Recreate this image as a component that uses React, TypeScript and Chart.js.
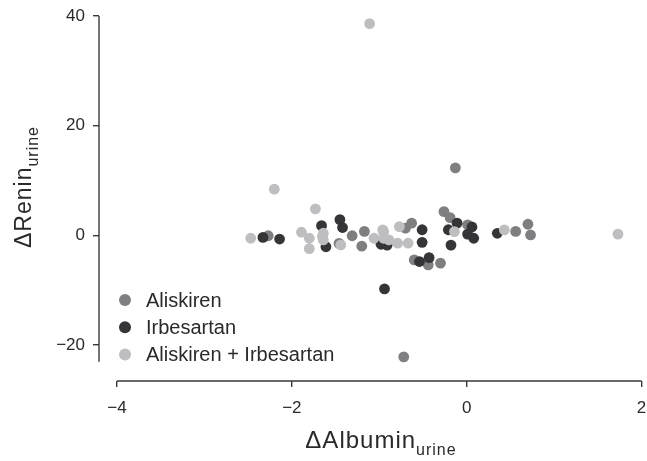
import React, { useEffect, useRef } from "react";
import { Chart, registerables } from "chart.js";

Chart.register(...registerables);

// ---- data ----
const seriesNames = ["Aliskiren", "Irbesartan", "Aliskiren + Irbesartan"];
const seriesColors = ["#7f7f81", "#353537", "#bebec0"];

const aliskirenX = [-2.27, -1.46, -1.31, -1.17, -1.2, -0.7, -0.63, -0.6, -0.44, -0.3, -0.26, -0.19, 0.01, 0.56, 0.7, 0.73, -0.13, -0.72];
const aliskirenY = [-0.1, -1.5, -0.1, 0.7, -2.0, 1.3, 2.2, -4.5, -5.4, -5.1, 4.3, 3.2, 1.9, 0.7, 2.0, 0.05, 12.3, -22.2];

const irbesartanX = [-2.33, -2.14, -1.66, -1.61, -1.45, -1.42, -0.98, -0.91, -0.51, -0.51, -0.54, -0.43, -0.11, -0.21, 0.06, 0.01, 0.08, -0.18, 0.35, -0.94];
const irbesartanY = [-0.4, -0.7, 1.75, -2.1, 2.85, 1.4, -1.65, -1.8, 1.0, -1.3, -4.8, -4.1, 2.2, 1.0, 1.5, 0.2, -0.55, -1.8, 0.35, -9.8];

const comboX = [-2.47, -1.89, -1.8, -1.8, -1.65, -1.64, -1.64, -1.44, -1.06, -0.95, -0.95, -0.89, -0.79, -0.77, -0.67, -0.96, -0.14, 0.43, 1.73, -1.11, -2.2, -1.73];
const comboY = [-0.55, 0.55, -0.55, -2.45, -0.25, 0.36, -0.85, -1.75, -0.55, 0.66, -0.55, -0.85, -1.46, 1.57, -1.46, 0.97, 0.66, 0.97, 0.2, 38.6, 8.4, 4.8];

const xTicks = [-4, -2, 0, 2];
const yTicks = [-20, 0, 20, 40];
const xTitle = "ΔAlbumin";
const xTitleSub = "urine";
const yTitle = "ΔRenin";
const yTitleSub = "urine";

// ---- view settings ----
const X_MIN = -4.205;
const X_MAX = 2;
const Y_MIN = -26.6;
const Y_MAX = 40;
const Y_AXIS_LINE_MIN = -23.1;
const FONT = "'Liberation Sans', Arial, sans-serif";
const AXIS_COLOR = "#3a3a3a";
const TEXT_COLOR = "#2a2a2a";

const fmt = (v: number) => (v < 0 ? "\u2212" + Math.abs(v) : String(v));

const toPoints = (xs: number[], ys: number[]) => xs.map((x, i) => ({ x, y: ys[i] }));

const axisPlugin = {
  id: "axisLines",
  beforeDatasetsDraw(chart: any) {
    const { ctx, scales, chartArea } = chart;
    const x = scales.x;
    const y = scales.y;
    ctx.save();
    ctx.strokeStyle = AXIS_COLOR;
    ctx.lineWidth = 1.4;
    ctx.beginPath();
    ctx.moveTo(chartArea.left, y.getPixelForValue(yTicks[yTicks.length - 1]));
    ctx.lineTo(chartArea.left, y.getPixelForValue(Y_AXIS_LINE_MIN));
    ctx.moveTo(x.getPixelForValue(xTicks[0]), chartArea.bottom);
    ctx.lineTo(x.getPixelForValue(xTicks[xTicks.length - 1]), chartArea.bottom);
    ctx.stroke();
    ctx.restore();
  },
};

const drawSubText = (ctx: any, main: string, sub: string, x: number, y: number, mainSize: number, subSize: number, subDrop: number) => {
  try { ctx.letterSpacing = "1px"; } catch (e) {}
  ctx.font = `${mainSize}px ${FONT}`;
  const w1 = ctx.measureText(main).width;
  ctx.font = `${subSize}px ${FONT}`;
  const w2 = ctx.measureText(sub).width;
  const total = w1 + w2;
  const start = x - total / 2;
  ctx.textAlign = "left";
  ctx.textBaseline = "alphabetic";
  ctx.font = `${mainSize}px ${FONT}`;
  ctx.fillText(main, start, y);
  ctx.font = `${subSize}px ${FONT}`;
  ctx.fillText(sub, start + w1, y + subDrop);
};

const titlePlugin = {
  id: "titles",
  afterDraw(chart: any) {
    const { ctx } = chart;
    ctx.save();
    ctx.fillStyle = TEXT_COLOR;
    drawSubText(ctx, xTitle, xTitleSub, 381, 448, 24, 16, 7);
    ctx.restore();
    ctx.save();
    ctx.fillStyle = TEXT_COLOR;
    ctx.translate(31, 187);
    ctx.rotate(-Math.PI / 2);
    drawSubText(ctx, yTitle, yTitleSub, 0, 0, 23, 16, 7);
    ctx.restore();
  },
};

const legendPlugin = {
  id: "customLegend",
  afterDraw(chart: any) {
    const { ctx } = chart;
    ctx.save();
    ctx.font = `20px ${FONT}`;
    try { ctx.letterSpacing = "0px"; } catch (e) {}
    ctx.textBaseline = "middle";
    ctx.textAlign = "left";
    seriesNames.forEach((name, i) => {
      const cy = 300 + i * 27.3;
      ctx.fillStyle = seriesColors[i];
      ctx.beginPath();
      ctx.arc(125, cy, 6, 0, Math.PI * 2);
      ctx.fill();
      ctx.fillStyle = TEXT_COLOR;
      ctx.fillText(name, 146, cy + 1);
    });
    ctx.restore();
  },
};

export default function App() {
  const canvasRef = useRef<HTMLCanvasElement | null>(null);

  useEffect(() => {
    if (!canvasRef.current) return;
    const mk = (label: string, color: string, xs: number[], ys: number[], order: number) => ({
      label,
      data: toPoints(xs, ys),
      backgroundColor: color,
      borderColor: color,
      borderWidth: 0,
      pointRadius: 5.4,
      order,
    });
    const chart = new Chart(canvasRef.current, {
      type: "scatter",
      data: {
        datasets: [
          mk(seriesNames[0], seriesColors[0], aliskirenX, aliskirenY, 3),
          mk(seriesNames[1], seriesColors[1], irbesartanX, irbesartanY, 2),
          mk(seriesNames[2], seriesColors[2], comboX, comboY, 1),
        ],
      },
      options: {
        responsive: false,
        animation: false,
        layout: { padding: { top: 16, right: 4, left: 0, bottom: 0 } },
        plugins: { legend: { display: false }, tooltip: { enabled: false } },
        scales: {
          x: {
            type: "linear",
            min: X_MIN,
            max: X_MAX,
            afterBuildTicks: (s: any) => {
              s.ticks = xTicks.map((v) => ({ value: v }));
            },
            afterFit: (s: any) => {
              s.height = 80;
              s.paddingLeft = 0;
              s.paddingRight = 0;
            },
            ticks: {
              callback: (v: any) => fmt(Number(v)),
              font: { family: FONT, size: 17 },
              color: TEXT_COLOR,
              padding: 11,
              maxRotation: 0,
              autoSkip: false,
            },
            grid: { display: true, drawOnChartArea: false, drawTicks: true, tickLength: 6, color: AXIS_COLOR, lineWidth: 1.4 },
            border: { display: false },
          },
          y: {
            type: "linear",
            min: Y_MIN,
            max: Y_MAX,
            afterBuildTicks: (s: any) => {
              s.ticks = yTicks.map((v) => ({ value: v }));
            },
            afterFit: (s: any) => {
              s.width = 99;
              s.paddingTop = 0;
              s.paddingBottom = 0;
            },
            ticks: {
              callback: (v: any) => fmt(Number(v)),
              font: { family: FONT, size: 17 },
              color: TEXT_COLOR,
              padding: 8,
              autoSkip: false,
            },
            grid: { display: true, drawOnChartArea: false, drawTicks: true, tickLength: 6, color: AXIS_COLOR, lineWidth: 1.4 },
            border: { display: false },
          },
        },
      },
      plugins: [axisPlugin, titlePlugin, legendPlugin],
    } as any);
    return () => chart.destroy();
  }, []);

  return (
    <div style={{ position: "fixed", left: 0, top: 0, width: 647, height: 461, background: "#fff" }}>
      <canvas ref={canvasRef} width={647} height={461} style={{ display: "block" }} />
    </div>
  );
}
